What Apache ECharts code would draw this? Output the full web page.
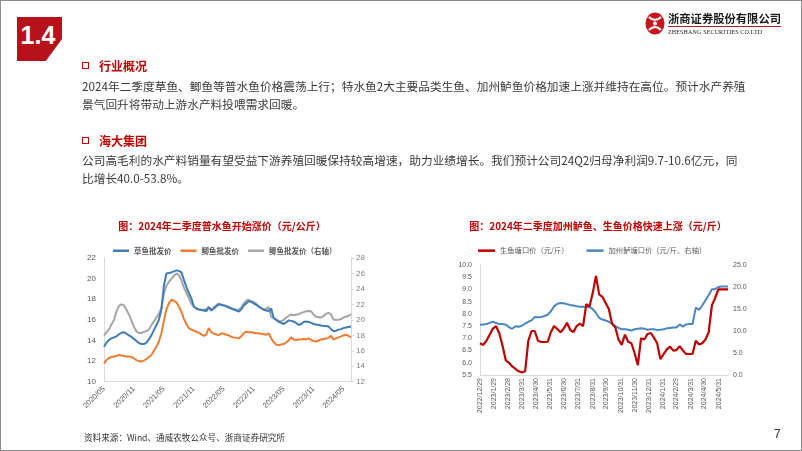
<!DOCTYPE html>
<html><head><meta charset="utf-8">
<script src="https://cdn.jsdelivr.net/npm/echarts@6/dist/echarts.min.js"></script>
<style>
html,body{margin:0;padding:0;background:#fff;}
#page{position:relative;width:802px;height:451px;overflow:hidden;font-family:"Noto Sans CJK SC",sans-serif;}
#chart{position:absolute;left:0;top:0;width:802px;height:451px;}
.abs{position:absolute;white-space:nowrap;}
.frame{position:absolute;left:0;top:0;width:802px;height:451px;box-sizing:border-box;border:1px solid #8c8c8c;pointer-events:none;}
.badge{position:absolute;left:17px;top:17px;width:45px;height:44px;background:#b5121b;clip-path:polygon(0 0,100% 0,100% 50%,64% 100%,0 100%);}
.badge span{position:absolute;left:0;top:5px;width:42px;text-align:center;color:#fff;font:bold 25px "Liberation Sans",Arial,sans-serif;line-height:26px;}
.head{font-size:12px;font-weight:bold;color:#c00000;line-height:18px;}
.sq{position:absolute;width:5px;height:5px;border:1.6px solid #c00000;}
.body{font-size:11.7px;color:#3a3a3a;line-height:18px;}
</style></head>
<body>
<div id="page">
  <div id="chart"></div>
  <div class="badge"><span>1.4</span></div>
  <svg class="abs" style="left:640px;top:9px" width="30" height="30" viewBox="0 0 30 30">
    <ellipse cx="15" cy="14.5" rx="9.5" ry="11" fill="#c8161d"/>
    <path d="M9 8 Q15 14 21 8" stroke="#fff" stroke-width="2.2" fill="none"/>
    <path d="M9 21 Q15 15 21 21" stroke="#fff" stroke-width="2.2" fill="none"/>
    <circle cx="15" cy="14.5" r="2" fill="#fff"/>
  </svg>
  <div class="abs" style="left:668px;top:10px;font-size:11.3px;font-weight:bold;color:#1a1a1a;line-height:16px;letter-spacing:0px;">浙商证券股份有限公司</div>
  <div class="abs" style="left:668px;top:26px;width:113px;height:1px;background:#c8161d;"></div>
  <div class="abs" style="left:668px;top:28px;font:6px 'Liberation Serif',serif;color:#1a1a1a;line-height:8px;letter-spacing:0.15px;">ZHESHANG SECURITIES CO.LTD</div>

  <div class="sq" style="left:82px;top:62px;"></div>
  <div class="abs head" style="left:99px;top:57px;">行业概况</div>
  <div class="abs body" style="left:82px;top:77px;">2024年二季度草鱼、鲫鱼等普水鱼价格震荡上行；特水鱼2大主要品类生鱼、加州鲈鱼价格加速上涨并维持在高位。预计水产养殖<br>景气回升将带动上游水产料投喂需求回暖。</div>
  <div class="sq" style="left:82px;top:137px;"></div>
  <div class="abs head" style="left:99px;top:132px;">海大集团</div>
  <div class="abs body" style="left:82px;top:151px;">公司高毛利的水产料销量有望受益下游养殖回暖保持较高增速，助力业绩增长。我们预计公司24Q2归母净利润9.7-10.6亿元，同<br>比增长40.0-53.8%。</div>

  <div class="abs" style="left:84px;top:431px;font-size:8.6px;color:#333;line-height:12px;">资料来源：Wind、通威农牧公众号、浙商证券研究所</div>
  <div class="abs" style="left:774px;top:426px;font:12px 'Liberation Sans',Arial,sans-serif;color:#333;line-height:16px;">7</div>
  <div class="frame"></div>
</div>
<script>
// ---------- Left chart data (half-monthly, 2020/05 - 2024/06) ----------
const leftTickLabels = ['2020/05','2020/11','2021/05','2021/11','2022/05','2022/11','2023/05','2023/11','2024/05'];
const grassCarp = [13.4,13.8,14.05,14.2,14.3,14.4,14.6,14.75,14.8,14.65,14.5,14.35,14.15,13.95,13.75,13.65,13.65,13.8,14.1,14.5,
  15.0,15.5,16.0,17.0,19.3,20.5,20.55,20.6,20.7,20.8,20.75,20.6,19.9,19.2,18.6,18.1,17.3,17.1,17.0,16.95,
  16.9,16.85,17.2,16.9,17.1,17.3,17.5,17.45,17.4,17.3,17.2,17.1,17.0,16.9,16.8,17.0,17.4,17.6,17.8,17.75,
  17.6,17.45,17.3,17.15,17.0,16.9,16.85,17.1,16.2,16.0,15.8,15.7,15.6,15.75,15.95,15.9,15.85,15.7,15.5,15.6,
  15.8,15.85,15.8,15.7,15.6,15.55,15.5,15.45,15.4,15.4,15.35,15.1,14.9,14.95,15.05,15.1,15.2,15.25,15.3,15.35];
const crucianCarp = [11.75,12.1,12.3,12.4,12.45,12.5,12.6,12.55,12.5,12.45,12.45,12.4,12.25,12.1,12.0,11.95,12.05,12.2,12.4,12.6,
  13.0,13.4,13.9,14.7,15.9,17.0,17.6,17.95,17.85,17.7,17.3,16.8,16.1,15.6,15.2,15.05,14.95,14.85,14.75,14.6,
  14.45,14.6,15.2,14.8,14.65,14.6,14.5,14.7,14.65,14.55,14.5,14.35,14.3,14.25,14.2,14.4,14.7,14.85,14.8,14.8,
  14.75,14.7,14.7,14.65,14.6,14.55,14.7,14.2,13.85,13.6,13.55,13.6,13.65,13.8,14.0,14.3,14.1,14.05,14.1,14.1,
  14.15,14.1,14.2,14.05,13.95,13.9,14.0,14.1,14.15,14.2,14.25,14.45,14.1,14.2,14.3,14.4,14.5,14.55,14.45,14.3];
const crucianRight = [17.95,18.4,18.8,19.4,20.0,21.1,21.8,22.0,21.9,21.3,20.7,19.9,19.1,18.5,18.3,18.3,18.45,18.55,18.75,19.3,
  19.8,20.3,20.8,21.5,23.4,24.4,24.9,25.3,25.7,26.0,25.8,25.1,24.2,23.5,22.8,22.1,21.7,21.5,21.35,21.3,
  21.3,21.4,21.7,21.3,21.6,21.9,22.1,22.0,21.9,21.8,21.7,21.5,21.4,21.35,21.3,21.6,22.1,22.5,22.6,22.4,
  22.3,22.1,21.7,21.5,21.3,21.4,21.7,20.4,20.2,20.0,19.9,19.8,20.0,20.3,20.5,20.7,20.6,20.7,20.7,20.9,
  21.0,21.1,21.15,21.1,20.7,20.4,20.35,20.3,20.5,20.8,20.9,20.7,20.0,20.0,20.0,20.1,20.3,20.4,20.55,20.7];
// half-month categories
const leftCats = [];
for (let k = 0; k < grassCarp.length; k++) {
  const mi = 4 + Math.floor(k / 2);
  const y = 2020 + Math.floor(mi / 12), m = mi % 12 + 1;
  leftCats.push(y + '/' + String(m).padStart(2, '0') + '/' + (k % 2 ? '16' : '01'));
}

// ---------- Right chart data (weekly from 2022/12/29) ----------
const rightTickLabels = ['2022/12/29','2023/1/29','2023/2/28','2023/3/31','2023/4/30','2023/5/31','2023/6/30','2023/7/31','2023/8/31',
  '2023/9/30','2023/10/31','2023/11/30','2023/12/31','2024/1/31','2024/2/29','2024/3/31','2024/4/30','2024/5/31'];
const snakehead = [6.8,6.73,6.9,7.15,7.4,7.5,7.2,6.7,6.1,6.0,5.85,5.75,5.65,5.6,5.65,6.9,7.3,7.3,6.9,6.85,
  6.85,6.85,7.25,7.5,7.38,7.25,7.4,7.64,7.35,7.25,7.5,7.6,7.5,8.4,8.3,8.85,9.55,8.8,8.7,8.45,
  8.2,7.6,7.45,6.95,6.73,7.15,6.86,6.8,6.4,5.9,7.0,6.95,7.18,7.22,7.03,6.8,6.15,6.35,6.55,6.66,
  6.5,6.52,6.68,6.5,6.36,6.36,6.36,6.9,6.75,6.8,6.95,7.25,8.35,8.65,9.0,9.0,9.0,9.0];
const bass = [11.4,11.5,11.6,11.85,12.1,11.8,11.6,11.6,11.45,10.85,10.5,11.1,10.95,11.2,11.7,12.1,12.4,13.2,13.1,13.2,
  13.4,13.7,14.5,15.6,16.2,16.35,16.3,16.1,15.9,15.8,15.6,15.5,15.5,15.5,15.4,15.0,14.1,13.0,12.6,12.4,
  12.1,11.7,11.1,10.7,10.4,10.4,10.3,10.1,10.4,10.5,10.6,10.5,10.3,10.4,10.4,10.2,10.3,10.4,10.6,10.7,
  10.8,10.8,11.5,11.0,11.5,11.6,11.6,15.3,14.8,15.8,17.0,18.2,19.5,19.5,20.0,20.1,20.1,20.1];
const rightDates = [];
for (let k = 0; k < snakehead.length; k++) rightDates.push(new Date(2022, 11, 29 + 7 * k).getTime());
const rightTickValues = rightTickLabels.map(s => { const p = s.split('/').map(Number); return new Date(p[0], p[1] - 1, p[2]).getTime(); });

const CJK = '"Noto Sans CJK SC", sans-serif';
const NUM = '"Liberation Sans", Arial, sans-serif';
const axisLineGray = { show: true, lineStyle: { color: '#d9d9d9', width: 1 } };

const option = {
  animation: false,
  backgroundColor: 'transparent',
  graphic: [
    { type: 'text', x: 222, y: 226, style: { text: '图：2024年二季度普水鱼开始涨价（元/公斤）', align: 'center', verticalAlign: 'middle', textAlign: 'center', textVerticalAlign: 'middle', font: 'bold 10px ' + CJK, fill: '#c00000' } },
    { type: 'text', x: 598, y: 226, style: { text: '图：2024年二季度加州鲈鱼、生鱼价格快速上涨（元/斤）', align: 'center', verticalAlign: 'middle', textAlign: 'center', textVerticalAlign: 'middle', font: 'bold 10px ' + CJK, fill: '#c00000' } }
  ],
  legend: [
    { left: 113, top: 247, padding: 0, itemWidth: 16, itemHeight: 2.5, itemGap: 9, icon: 'rect',
      textStyle: { fontSize: 7.5, fontWeight: 'bold', color: '#595959', fontFamily: CJK },
      data: ['草鱼批发价', '鲫鱼批发价', '鲫鱼批发价（右轴）'] },
    { left: 478, top: 247, padding: 0, itemWidth: 17, itemHeight: 2.5, itemGap: 18, icon: 'rect',
      textStyle: { fontSize: 7.3, color: '#595959', fontFamily: CJK },
      data: ['生鱼塘口价（元/斤）', '加州鲈塘口价（元/斤、右轴）'] }
  ],
  grid: [
    { left: 104, top: 258, width: 247, height: 123.7 },
    { left: 480, top: 265, width: 248, height: 110 }
  ],
  xAxis: [
    { type: 'category', gridIndex: 0, data: leftCats, boundaryGap: false,
      axisLine: axisLineGray, axisTick: { show: false },
      axisLabel: { interval: 11, rotate: 45, margin: 6, fontSize: 7.6, color: '#595959', fontFamily: NUM,
        formatter: v => v.slice(0, 7) } },
    { type: 'value', gridIndex: 1, min: rightDates[0], max: rightDates[rightDates.length - 1],
      axisLine: axisLineGray, axisTick: { show: false }, splitLine: { show: false },
      axisLabel: { customValues: rightTickValues, rotate: 90, margin: 3, fontSize: 7, color: '#595959', fontFamily: NUM,
        hideOverlap: false, showMinLabel: true, showMaxLabel: true,
        formatter: v => { const d = new Date(v); return d.getFullYear() + '/' + (d.getMonth() + 1) + '/' + d.getDate(); } } }
  ],
  yAxis: [
    { type: 'value', gridIndex: 0, min: 10, max: 22, interval: 2,
      axisLine: axisLineGray, axisTick: { show: false }, splitLine: { show: false },
      axisLabel: { margin: 8, fontSize: 8, color: '#595959', fontFamily: NUM } },
    { type: 'value', gridIndex: 0, position: 'right', min: 12, max: 28, interval: 2,
      axisLine: axisLineGray, axisTick: { show: true, length: 3, lineStyle: { color: '#d9d9d9' } }, splitLine: { show: false },
      axisLabel: { margin: 5, fontSize: 8, color: '#808080', fontFamily: NUM } },
    { type: 'value', gridIndex: 1, min: 5.5, max: 10, interval: 0.5,
      axisLine: axisLineGray, axisTick: { show: false }, splitLine: { show: false },
      axisLabel: { margin: 8, fontSize: 7, color: '#595959', fontFamily: NUM, formatter: v => v.toFixed(1) } },
    { type: 'value', gridIndex: 1, position: 'right', min: 0, max: 25, interval: 5,
      axisLine: { show: false }, axisTick: { show: false }, splitLine: { show: false },
      axisLabel: { margin: 5, fontSize: 7, color: '#595959', fontFamily: NUM, formatter: v => v.toFixed(1) } }
  ],
  series: [
    { name: '草鱼批发价', type: 'line', xAxisIndex: 0, yAxisIndex: 0, data: grassCarp, showSymbol: false, symbol: 'none',
      lineStyle: { color: '#3f7cb8', width: 2 }, itemStyle: { color: '#3f7cb8' }, z: 3 },
    { name: '鲫鱼批发价', type: 'line', xAxisIndex: 0, yAxisIndex: 0, data: crucianCarp, showSymbol: false, symbol: 'none',
      lineStyle: { color: '#ed7d31', width: 2 }, itemStyle: { color: '#ed7d31' }, z: 3 },
    { name: '鲫鱼批发价（右轴）', type: 'line', xAxisIndex: 0, yAxisIndex: 1, data: crucianRight, showSymbol: false, symbol: 'none',
      lineStyle: { color: '#a5a5a5', width: 2 }, itemStyle: { color: '#a5a5a5' }, z: 2 },
    { name: '生鱼塘口价（元/斤）', type: 'line', xAxisIndex: 1, yAxisIndex: 2, data: rightDates.map((d, i) => [d, snakehead[i]]), showSymbol: false, symbol: 'none',
      lineStyle: { color: '#c00000', width: 2.2 }, itemStyle: { color: '#c00000' }, z: 3 },
    { name: '加州鲈塘口价（元/斤、右轴）', type: 'line', xAxisIndex: 1, yAxisIndex: 3, data: rightDates.map((d, i) => [d, bass[i]]), showSymbol: false, symbol: 'none',
      lineStyle: { color: '#4a86c1', width: 2 }, itemStyle: { color: '#4a86c1' }, z: 2 }
  ]
};
const chart = echarts.init(document.getElementById('chart'), null, { renderer: 'canvas' });
chart.setOption(option);
</script>
</body></html>
